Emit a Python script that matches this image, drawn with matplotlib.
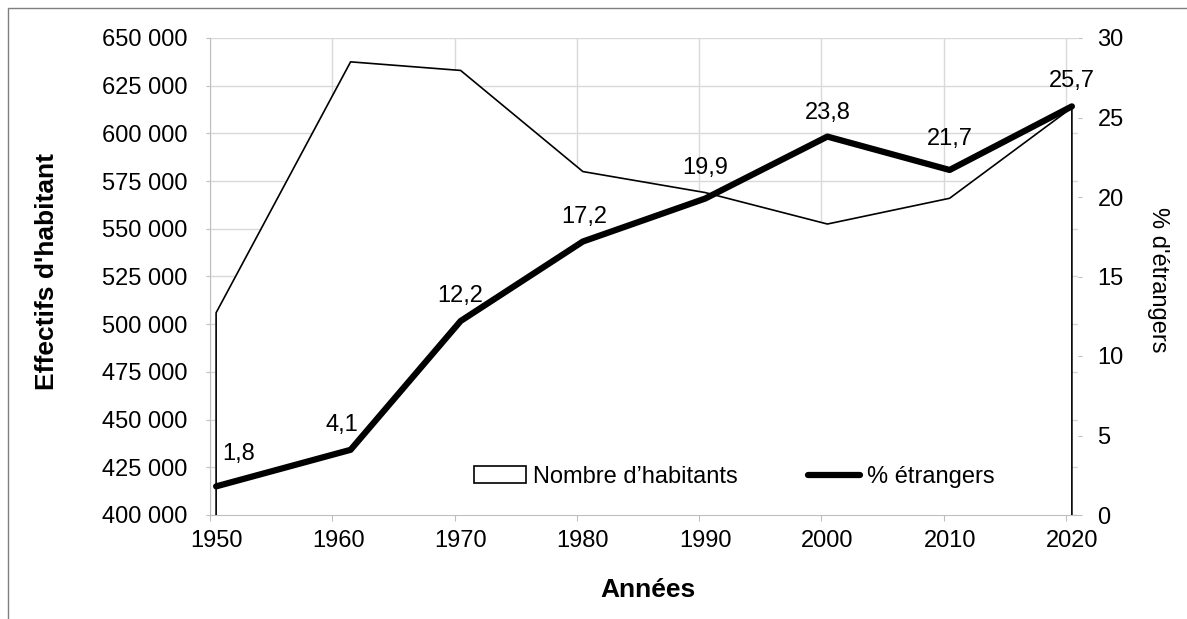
import matplotlib.pyplot as plt
from matplotlib.patches import Patch, Rectangle
from matplotlib.lines import Line2D
from matplotlib.ticker import FuncFormatter

plt.rcParams['font.family'] = ['Liberation Sans', 'DejaVu Sans']

# Données
annees = [1950, 1961, 1970, 1980, 1990, 2000, 2010, 2020]
habitants = [506000, 637500, 633000, 580000, 569000, 552500, 566000, 613500]
etrangers = [1.8, 4.1, 12.2, 17.2, 19.9, 23.8, 21.7, 25.7]
etiquettes = ["1,8", "4,1", "12,2", "17,2", "19,9", "23,8", "21,7", "25,7"]
decennies = [1950, 1960, 1970, 1980, 1990, 2000, 2010, 2020]

# décalage des étiquettes (points)
decalages = [(16, 23), (-6, 18), (0, 18), (1, 18), (0, 22), (0, 17), (0, 22), (0, 18)]

gris = "#bfbfbf"
fs = 17
bas = 400000

fig = plt.figure(figsize=(11.87, 6.19), dpi=100)
ax = fig.add_axes([210 / 1187, 1 - 515 / 619, 868 / 1187, 477 / 619])

# axe "date" à la Excel : chaque point au milieu de son année
x = [a + 0.5 for a in annees]

# aire blanche + contour
ax.fill_between(x, habitants, bas, facecolor="white", edgecolor="none", zorder=2)
ax.plot([x[0]] + x + [x[-1]], [bas] + habitants + [bas], color="black",
        linewidth=1.2, zorder=3)

ax.set_xlim(1950, 2021)
ax.set_ylim(bas, 650000)
ax.set_yticks(range(bas, 650001, 25000))
ax.yaxis.set_major_formatter(FuncFormatter(lambda v, p: f"{int(v):,}".replace(",", " ")))
ax.set_xticks(decennies)
ax.set_xticklabels([])
ax.set_xticks([d + 0.5 for d in decennies], [str(d) for d in decennies], minor=True)
ax.tick_params(axis="x", which="major", length=4, color=gris)
ax.tick_params(axis="x", which="minor", length=0, width=0, pad=11, labelsize=fs)
ax.tick_params(axis="y", length=3, color=gris, pad=13, labelsize=fs)
ax.grid(True, which="major", color="#d9d9d9", linewidth=1)
ax.set_axisbelow(True)
for s in ["top", "right"]:
    ax.spines[s].set_visible(False)
for s in ["left", "bottom"]:
    ax.spines[s].set_color(gris)

ax2 = ax.twinx()
ax2.plot(x, etrangers, color="black", linewidth=4.5, solid_capstyle="round",
         solid_joinstyle="round")
ax2.set_ylim(0, 30)
ax2.set_yticks(range(0, 31, 5))
ax2.tick_params(axis="y", length=3, color=gris, pad=11, labelsize=fs)
for s in ax2.spines.values():
    s.set_visible(False)

for xi, yi, lab, off in zip(x, etrangers, etiquettes, decalages):
    ax2.annotate(lab, (xi, yi), xytext=off, textcoords="offset points",
                 ha="center", va="center", fontsize=fs)

poignees = [Patch(facecolor="white", edgecolor="black", linewidth=1.2),
            Line2D([0], [0], color="black", linewidth=4.5, solid_capstyle="round")]
ax2.legend(poignees, ["Nombre d’habitants", "% étrangers"], loc="center",
           bbox_to_anchor=(0.604, 0.08), ncol=2, frameon=False, fontsize=fs,
           handlelength=2.2, handletextpad=0.3, columnspacing=3.0)

fig.text(47 / 1187, 1 - 271 / 619, "Effectifs d'habitant", rotation=90,
         ha="center", va="center", fontsize=19, fontweight="bold")
fig.text(1158 / 1187, 1 - 280 / 619, "% d'étrangers", rotation=270,
         ha="center", va="center", fontsize=fs)
fig.text(648 / 1187, 1 - 590 / 619, "Années", ha="center", va="center",
         fontsize=19, fontweight="bold")

# cadre extérieur
fig.patches.append(Rectangle((8 / 1187, -0.05), 1.1, 1 - 8 / 619 + 0.05,
                             transform=fig.transFigure, fill=False,
                             edgecolor="#7f7f7f", linewidth=1))

fig.savefig("out.png", dpi=100)
